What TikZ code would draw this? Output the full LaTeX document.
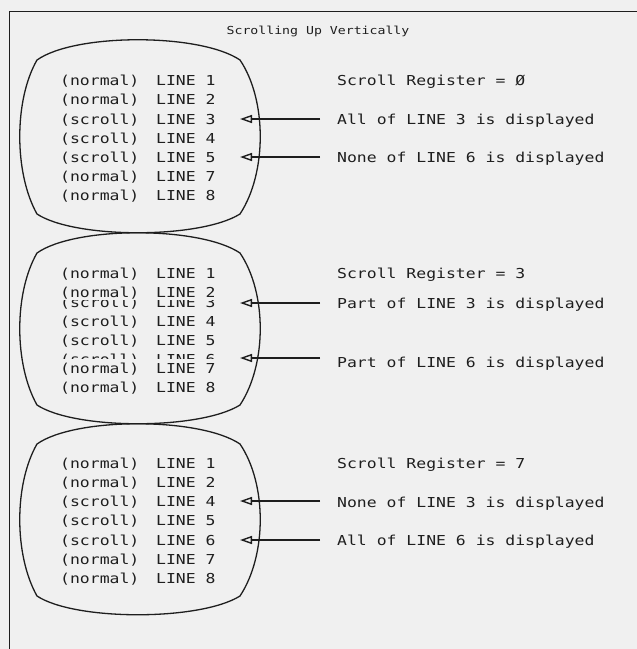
\documentclass[tikz,border=0pt]{standalone}
\usepackage{fontspec}
\newfontfamily\plotfont[FakeStretch=1.2]{DejaVu Sans Mono}
\usetikzlibrary{arrows.meta}
\definecolor{paper}{RGB}{240,240,240}
\definecolor{ink}{RGB}{30,30,30}
\newcommand\tvscreen[2]{%
  \draw[screenline] (37,#1+20) .. controls (75,#1-7) and (200,#1-7) .. (240,#1+20)
    .. controls (267,#1+60) and (267,#2-60) .. (240,#2-19)
    .. controls (200,#2+6) and (75,#2+6) .. (37,#2-19)
    .. controls (14,#2-60) and (14,#1+60) .. cycle;}
\begin{document}
\begin{tikzpicture}[x=1pt,y=-1pt,
  txt/.style={font=\plotfont\fontsize{13.7}{14}\selectfont, text=ink, inner sep=0pt, anchor=base west},
  ttl/.style={font=\plotfont\fontsize{11}{13}\selectfont, text=ink, inner sep=0pt, anchor=base},
  screenline/.style={draw=ink, line width=1.3pt, line join=round},
  frame/.style={draw=ink, line width=1pt},
  arr/.style={draw=ink, line width=1.1pt, -{Triangle[open, length=12pt, width=8pt, line width=1.4pt]}}]
\useasboundingbox (0,0) rectangle (637,649);
\fill[paper] (0,0) rectangle (637,649);
\draw[frame] (637,11.5) -- (9,11.5) -- (9,649);
\node[ttl] (title) at (318,34) {Scrolling Up Vertically};
% screens
\tvscreen{40}{233}
\tvscreen{233}{424}
\tvscreen{424}{615}
% screen 1
\foreach \y/\a/\b [count=\i] in {80/(normal)/LINE 1, 99/(normal)/LINE 2, 119/(scroll)/LINE 3, 138/(scroll)/LINE 4, 157/(scroll)/LINE 5, 176/(normal)/LINE 7, 195/(normal)/LINE 8}{
  \node[txt] (sa\i) at (60,\y+5) {\a};
  \node[txt] (sb\i) at (156,\y+5) {\b};}
\node[txt] (ra1) at (337,85) {Scroll Register = Ø};
\node[txt] (ra2) at (337,124) {All of LINE 3 is displayed};
\node[txt] (ra3) at (337,162) {None of LINE 6 is displayed};
\coordinate (a1s) at (320,119); \coordinate (a1e) at (240,119);
\coordinate (a2s) at (320,157); \coordinate (a2e) at (240,157);
\draw[arr] (a1s) -- (a1e);
\draw[arr] (a2s) -- (a2e);
% screen 2
\foreach \y/\a/\b [count=\i] in {273/(normal)/LINE 1, 292/(normal)/LINE 2, 368/(normal)/LINE 7, 387/(normal)/LINE 8}{
  \node[txt] (ta\i) at (60,\y+5) {\a};
  \node[txt] (tb\i) at (156,\y+5) {\b};}
\begin{scope}
  \clip (40,300) rectangle (255,358);
  \foreach \y/\a/\b [count=\i] in {302/(scroll)/LINE 3, 321/(scroll)/LINE 4, 340/(scroll)/LINE 5, 359/(scroll)/LINE 6}{
    \node[txt] (ua\i) at (60,\y+5) {\a};
    \node[txt] (ub\i) at (156,\y+5) {\b};}
\end{scope}
\node[txt] (rb1) at (337,278) {Scroll Register = 3};
\node[txt] (rb2) at (337,308) {Part of LINE 3 is displayed};
\node[txt] (rb3) at (337,367) {Part of LINE 6 is displayed};
\coordinate (b1s) at (320,303); \coordinate (b1e) at (240,303);
\coordinate (b2s) at (320,358); \coordinate (b2e) at (240,358);
\draw[arr] (b1s) -- (b1e);
\draw[arr] (b2s) -- (b2e);
% screen 3
\foreach \y/\a/\b [count=\i] in {463/(normal)/LINE 1, 482/(normal)/LINE 2, 501/(scroll)/LINE 4, 520/(scroll)/LINE 5, 540/(scroll)/LINE 6, 559/(normal)/LINE 7, 578/(normal)/LINE 8}{
  \node[txt] (va\i) at (60,\y+5) {\a};
  \node[txt] (vb\i) at (156,\y+5) {\b};}
\node[txt] (rc1) at (337,468) {Scroll Register = 7};
\node[txt] (rc2) at (337,507) {None of LINE 3 is displayed};
\node[txt] (rc3) at (337,545) {All of LINE 6 is displayed};
\coordinate (c1s) at (320,501); \coordinate (c1e) at (240,501);
\coordinate (c2s) at (320,540); \coordinate (c2e) at (240,540);
\draw[arr] (c1s) -- (c1e);
\draw[arr] (c2s) -- (c2e);
\end{tikzpicture}
\end{document}
